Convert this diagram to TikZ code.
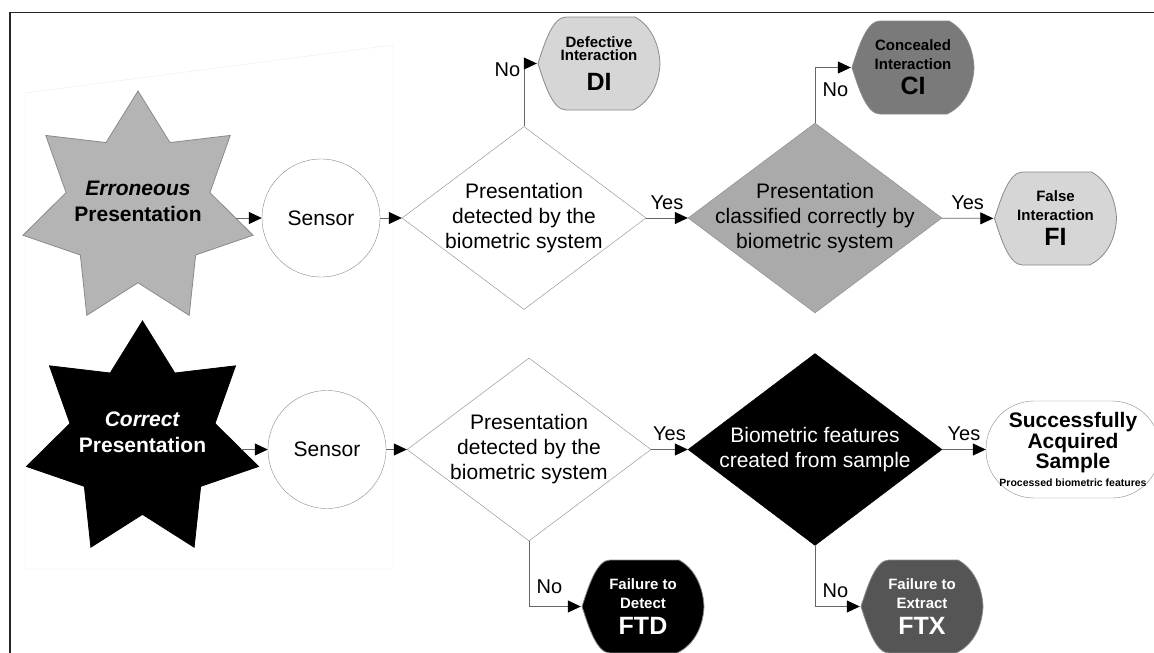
\documentclass[tikz,border=0pt]{standalone}
\usepackage{fontspec}
\setmainfont{Liberation Sans}
\usepackage{tikz}
\usetikzlibrary{arrows.meta, shapes.geometric, positioning}

\definecolor{starGray}{HTML}{B4B4B4}
\definecolor{lineGray}{HTML}{8A8A8A}
\definecolor{diaGray}{HTML}{AAAAAA}
\definecolor{lightFill}{HTML}{D6D6D6}
\definecolor{darkFill}{HTML}{7A7A7A}
\definecolor{ftxFill}{HTML}{555555}

\newcommand{\outcode}[1]{{\fontsize{25}{25}\selectfont #1}}
% seven-pointed star: x, y, outer radius, fill, border
\newcommand{\starshape}[5]{%
  \filldraw[fill=#4, draw=#5, line width=0.8pt, shift={(#1,#2)}] (0,-#3)
    \foreach \k in {1,...,13} { -- ({-90+\k*360/14}:{#3*(1-0.375*mod(\k,2))}) } -- cycle;}
% outcome drop: x, y, fill
\newcommand{\dropshape}[3]{%
  \filldraw[fill=#3, draw=lineGray, line width=0.8pt, shift={(#1,#2)}]
    (-61,0) .. controls (-54,-22) and (-46,-46.5) .. (-33,-46.5) -- (36,-46.5)
    .. controls (50,-39) and (60,-22) .. (61,0)
    .. controls (60,22) and (50,39) .. (34,46.5) -- (-33,46.5)
    .. controls (-46,46.5) and (-54,22) .. cycle;}

\tikzset{
  startext/.style={inner sep=0pt, align=center, text depth=15pt, font=\bfseries\fontsize{21}{26}\selectfont},
  sensorcirc/.style={circle, draw=lineGray, fill=white, minimum size=118pt, inner sep=0pt,
    font=\fontsize{21}{25}\selectfont},
  decision/.style={diamond, aspect=1.34, draw=lineGray, inner sep=-12pt, align=center,
    font=\fontsize{21}{25}\selectfont},
  outcome/.style={rectangle, minimum width=124pt, minimum height=95pt, inner sep=0pt,
    align=center, font=\bfseries\fontsize{15}{19}\selectfont},
  terminal/.style={rectangle, rounded corners=48pt, draw=lineGray, fill=white,
    minimum width=174pt, minimum height=97pt, inner sep=0pt, align=center,
    font=\bfseries\fontsize{21}{17}\selectfont},
  conn/.style={draw=black!60, line width=0.8pt},
  answer/.style={font=\fontsize{20}{24}\selectfont}
}

\begin{document}
\begin{tikzpicture}[x=1pt, y=-1pt, >={Triangle[length=13pt, width=12pt, color=black]}]
    % 1. Khung va nen
    \useasboundingbox (0,0) rectangle (1154,653);
    \clip (0,0) rectangle (1154,653);
    \draw[black!85, line width=1.8pt] (10,12.5) rectangle (1180,680);
    \draw[black!8] (25,93) -- (393,45) -- (393,569) -- (25,569) -- cycle;

    % 2. Hang tren: trinh dien sai
    \starshape{138}{209}{118}{starGray}{lineGray}
    \node[startext] (err) at (138,209) {\textit{Erroneous}\\Presentation};
    \coordinate (errtip) at (235.5,218);
    \node[sensorcirc] (sens1) at (321,218) {Sensor};
    \node[decision, fill=white, minimum width=244pt, minimum height=183pt] (det1) at (524,218)
        {Presentation\\detected by the\\biometric system};
    \node[decision, fill=diaGray, minimum width=254pt, minimum height=190pt] (cls) at (815,218)
        {Presentation\\classified correctly by\\biometric system};
    \dropshape{599}{63.5}{lightFill}
    \node[outcome, font=\bfseries\fontsize{15}{13}\selectfont] (di) at (599,63.5)
        {Defective\\Interaction\\[11pt]\outcode{DI}};
    \dropshape{913}{67.5}{darkFill}
    \node[outcome] (ci) at (913,67.5) {Concealed\\Interaction\\[6pt]\outcode{CI}};
    \dropshape{1055.5}{218.5}{lightFill}
    \node[outcome] (fi) at (1055.5,218.5) {False\\Interaction\\[6pt]\outcode{FI}};

    \draw[->, conn] (errtip) -- (sens1);
    \draw[->, conn] (sens1) -- (det1);
    \draw[->, conn] (det1) -- node[above=5pt, answer] {Yes} (cls);
    \draw[->, conn] (det1.north) |- node[pos=0.45, left, answer] {No} (di);
    \draw[->, conn] (cls.north) |- node[pos=0.3, right=4pt, answer] {No} (ci);
    \draw[->, conn] (cls) -- node[above=5pt, answer] {Yes} (fi);

    % 3. Hang duoi: trinh dien dung
    \starshape{142.5}{440}{119}{black}{black}
    \node[startext, text=white] (cor) at (142.5,440) {\textit{Correct}\\Presentation};
    \coordinate (cortip) at (241,449.5);
    \node[sensorcirc] (sens2) at (327,449.5) {Sensor};
    \node[decision, fill=white, minimum width=244pt, minimum height=183pt] (det2) at (529,449.5)
        {Presentation\\detected by the\\biometric system};
    \node[decision, fill=black, draw=black, text=white, minimum width=254pt, minimum height=192pt] (feat) at (815,449.5)
        {Biometric features\\created from sample};
    \dropshape{643}{606.5}{black}
    \node[outcome, text=white] (ftd) at (643,606.5) {Failure to\\Detect\\[7pt]\outcode{FTD}};
    \dropshape{922}{606.5}{ftxFill}
    \node[outcome, text=white] (ftx) at (922,606.5) {Failure to\\Extract\\[7pt]\outcode{FTX}};
    \node[terminal] (acq) at (1073,449.5)
        {Successfully\\Acquired\\Sample\\[1pt]{\fontsize{10.5}{12}\selectfont Processed biometric features}};

    \draw[->, conn] (cortip) -- (sens2);
    \draw[->, conn] (sens2) -- (det2);
    \draw[->, conn] (det2) -- node[above=5pt, answer] {Yes} (feat);
    \draw[->, conn] (det2.south) |- node[pos=0.35, right=4pt, answer] {No} (ftd);
    \draw[->, conn] (feat.south) |- node[pos=0.37, right=4pt, answer] {No} (ftx);
    \draw[->, conn] (feat) -- node[above=5pt, answer] {Yes} (acq);
\end{tikzpicture}
\end{document}
